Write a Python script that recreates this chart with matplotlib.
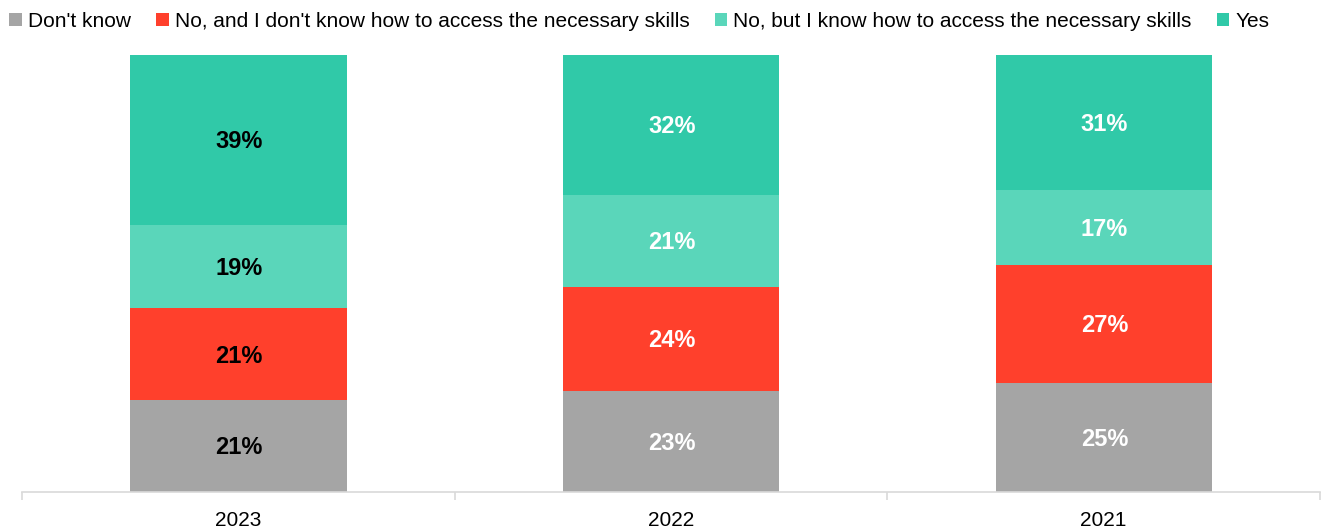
import matplotlib
matplotlib.use("Agg")
import matplotlib.pyplot as plt
from matplotlib.patches import Patch
import numpy as np

plt.rcParams['font.family'] = ['Liberation Sans', 'DejaVu Sans']

years = ["2023", "2022", "2021"]
series_names = [
    "Don't know",
    "No, and I don't know how to access the necessary skills",
    "No, but I know how to access the necessary skills",
    "Yes",
]
dont_know = [21, 23, 25]
no_dont_know_how = [21, 24, 27]
no_but_know_how = [19, 21, 17]
yes = [39, 32, 31]

values = [dont_know, no_dont_know_how, no_but_know_how, yes]
colors = ["#A5A5A5", "#FF402C", "#5AD6BA", "#30C9A8"]
label_colors = ["black", "white", "white"]

W, H = 1328, 529
fig = plt.figure(figsize=(W / 100, H / 100), dpi=100)
ax = fig.add_axes([22 / W, (H - 492) / H, (1320 - 22) / W, (492 - 55) / H])

x = np.arange(len(years))
bottom = np.zeros(len(years))
for vals, col in zip(values, colors):
    vals = np.array(vals, dtype=float)
    ax.bar(x, vals, bottom=bottom, width=0.5, color=col, edgecolor="none", zorder=2)
    for i, v in enumerate(vals):
        ax.text(x[i] + 0.002, bottom[i] + v / 2 - 0.4, f"{int(v)}%", ha="center", va="center",
                fontsize=17, fontweight="bold", color=label_colors[i], zorder=3)
    bottom += vals

ax.set_xlim(-0.5, len(years) - 0.5)
ax.set_ylim(0, 100)
ax.set_yticks([])
for s in ["top", "right", "left"]:
    ax.spines[s].set_visible(False)
ax.spines["bottom"].set_color("#D9D9D9")
ax.spines["bottom"].set_linewidth(1.2)

# category labels centred, tick marks on the category boundaries
ax.set_xticks(x)
ax.set_xticklabels(years, fontsize=15)
ax.tick_params(axis="x", which="major", length=0, pad=14)
ax.set_xticks(np.arange(-0.5, len(years)), minor=True)
ax.tick_params(axis="x", which="minor", length=6, color="#D9D9D9", width=1.2)

handles = [Patch(facecolor=c, edgecolor="none") for c in colors]
fig.legend(handles, series_names, loc="upper left", bbox_to_anchor=(-0.004, 1.005),
           ncol=4, frameon=False, fontsize=15, handlelength=0.6, handleheight=0.6,
           handletextpad=0.3, columnspacing=1.2, borderaxespad=0.3)

fig.savefig("out.png", dpi=100)
